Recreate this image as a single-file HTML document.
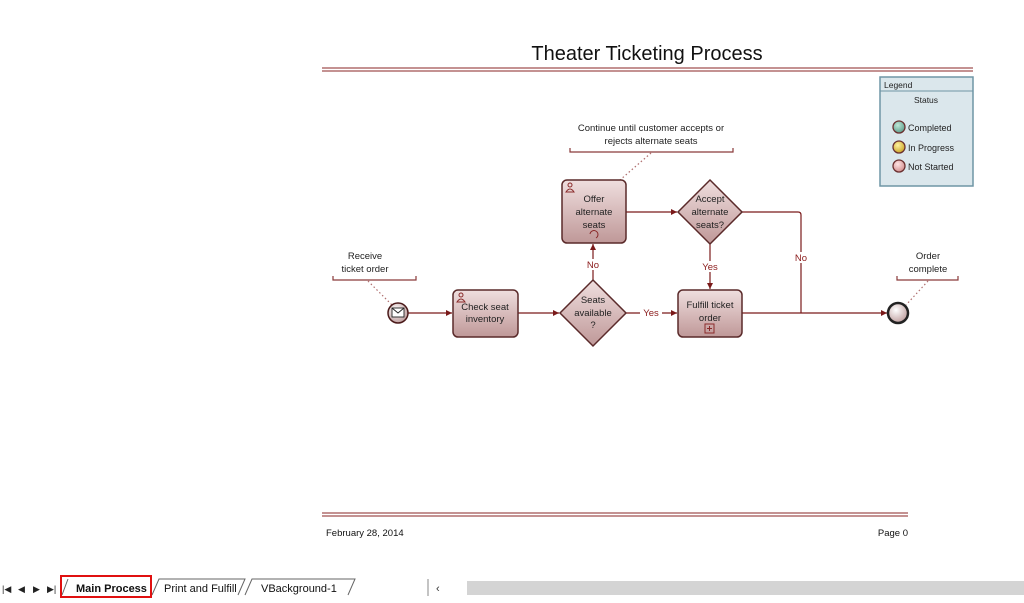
<!DOCTYPE html>
<html><head><style>
body{margin:0;width:1024px;height:598px;background:#fff;overflow:hidden;font-family:"Liberation Sans",sans-serif;}
svg text{font-family:"Liberation Sans",sans-serif;}
</style></head><body>
<svg width="1024" height="598" xmlns="http://www.w3.org/2000/svg">
<defs>
<linearGradient id="tg" x1="0" y1="0" x2="0" y2="1"><stop offset="0" stop-color="#efdede"/><stop offset="1" stop-color="#bf9898"/></linearGradient>
<radialGradient id="cg" cx="0.4" cy="0.35" r="0.7"><stop offset="0" stop-color="#fff"/><stop offset="1" stop-color="#b99"/></radialGradient>
<radialGradient id="gg" cx="0.4" cy="0.35" r="0.7"><stop offset="0" stop-color="#bfe8d8"/><stop offset="1" stop-color="#5a9a88"/></radialGradient>
<radialGradient id="yg" cx="0.4" cy="0.35" r="0.7"><stop offset="0" stop-color="#fff2a0"/><stop offset="1" stop-color="#c8a020"/></radialGradient>
<radialGradient id="pg" cx="0.4" cy="0.35" r="0.7"><stop offset="0" stop-color="#ffe4e4"/><stop offset="1" stop-color="#d08a8a"/></radialGradient>
<marker id="ar" markerWidth="6" markerHeight="6" refX="5" refY="3" orient="auto"><path d="M0,0.5 L5,3 L0,5.5z" fill="#7a1a1a"/></marker>
</defs>
<text x="647" y="60" font-size="20" text-anchor="middle" fill="#111">Theater Ticketing Process</text>
<g stroke="#a05050" stroke-width="1.2"><line x1="322" y1="68" x2="973" y2="68"/><line x1="322" y1="71" x2="973" y2="71"/>
<line x1="322" y1="513" x2="908" y2="513"/><line x1="322" y1="516" x2="908" y2="516"/></g>
<text x="326" y="536" font-size="9.5" fill="#111">February 28, 2014</text>
<text x="908" y="536" font-size="9.5" fill="#111" text-anchor="end">Page 0</text>
<rect x="880" y="77" width="93" height="109" fill="#dbe7ec" stroke="#6f95a5" stroke-width="1.5"/>
<line x1="880" y1="91" x2="973" y2="91" stroke="#6f95a5"/>
<text x="884" y="88" font-size="8.5" fill="#222">Legend</text>
<text x="926" y="103" font-size="8.5" fill="#222" text-anchor="middle">Status</text>
<circle cx="899" cy="127" r="6" fill="url(#gg)" stroke="#6a3030" stroke-width="1.3"/><text x="908" y="131" font-size="9" fill="#222">Completed</text>
<circle cx="899" cy="147" r="6" fill="url(#yg)" stroke="#6a3030" stroke-width="1.3"/><text x="908" y="151" font-size="9" fill="#222">In Progress</text>
<circle cx="899" cy="166" r="6" fill="url(#pg)" stroke="#6a3030" stroke-width="1.3"/><text x="908" y="170" font-size="9" fill="#222">Not Started</text>
<g font-size="9.5" fill="#222" text-anchor="middle">
<text x="651" y="131">Continue until customer accepts or</text><text x="651" y="144">rejects alternate seats</text>
<text x="365" y="259">Receive</text><text x="365" y="272">ticket order</text>
<text x="928" y="259">Order</text><text x="928" y="272">complete</text>
</g>
<g fill="none" stroke="#8a3a3a" stroke-width="1.2">
<path d="M570,148 V152 H733 V148"/><path d="M333,276 V280 H416 V276"/><path d="M897,276 V280 H958 V276"/>
</g>
<g stroke="#b07070" stroke-dasharray="1.5,2.5" stroke-width="1.2">
<line x1="651" y1="153" x2="620" y2="180"/><line x1="368" y1="281" x2="392" y2="305"/><line x1="928" y1="281" x2="906" y2="305"/>
</g>
<g stroke="#7a1a1a" stroke-width="1.2" fill="none">
<line x1="408" y1="313" x2="452" y2="313" marker-end="url(#ar)"/>
<line x1="518" y1="313" x2="559" y2="313" marker-end="url(#ar)"/>
<line x1="626" y1="313" x2="677" y2="313" marker-end="url(#ar)"/>
<line x1="742" y1="313" x2="887" y2="313" marker-end="url(#ar)"/>
<line x1="593" y1="280" x2="593" y2="244" marker-end="url(#ar)"/>
<line x1="626" y1="212" x2="677" y2="212" marker-end="url(#ar)"/>
<line x1="710" y1="244" x2="710" y2="289" marker-end="url(#ar)"/>
<path d="M742,212 H798 Q801,212 801,215 V313"/>
</g>
<g font-size="9.5" fill="#8a1a1a" text-anchor="middle">
<rect x="583" y="259" width="20" height="11" fill="#fff"/><text x="593" y="268">No</text>
<rect x="640" y="307" width="22" height="11" fill="#fff"/><text x="651" y="316">Yes</text>
<rect x="699" y="261" width="22" height="11" fill="#fff"/><text x="710" y="270">Yes</text>
<rect x="792" y="252" width="18" height="11" fill="#fff"/><text x="801" y="261">No</text>
</g>
<circle cx="398" cy="313" r="10" fill="url(#cg)" stroke="#4a1a1a" stroke-width="1.5"/>
<rect x="392" y="308" width="12" height="9" fill="#fff" stroke="#222" stroke-width="0.9"/><path d="M392,308 L398,313 L404,308" fill="none" stroke="#222" stroke-width="0.9"/>
<circle cx="898" cy="313" r="10" fill="url(#cg)" stroke="#222" stroke-width="2.5"/>
<g stroke="#5a2a2a" stroke-width="1.5" fill="url(#tg)">
<rect x="453" y="290" width="65" height="47" rx="5"/>
<rect x="678" y="290" width="64" height="47" rx="5"/>
<rect x="562" y="180" width="64" height="63" rx="5"/>
<path d="M593,280 L626,313 L593,346 L560,313z"/>
<path d="M710,180 L742,212 L710,244 L678,212z"/>
</g>
<g font-size="9.5" fill="#222" text-anchor="middle">
<text x="485" y="310">Check seat</text><text x="485" y="322">inventory</text>
<text x="710" y="308">Fulfill ticket</text><text x="710" y="321">order</text>
<text x="594" y="202">Offer</text><text x="594" y="215">alternate</text><text x="594" y="228">seats</text>
<text x="593" y="303">Seats</text><text x="593" y="316">available</text><text x="593" y="328">?</text>
<text x="710" y="202">Accept</text><text x="710" y="215">alternate</text><text x="710" y="228">seats?</text>
</g>
<g fill="none" stroke="#8a2a2a" stroke-width="1">
<circle cx="461" cy="295" r="2"/><path d="M457,302 Q461,296 465,302z"/>
<circle cx="570" cy="185" r="2"/><path d="M566,192 Q570,186 574,192z"/>
<path d="M590,234 A4,4 0 1 1 596,238"/>
<rect x="705" y="324" width="9" height="9"/><path d="M709.5,326 V331 M707,328.5 H712"/>
</g>
<rect x="0" y="577" width="1024" height="21" fill="#fff"/>
<rect x="467" y="581" width="557" height="14" fill="#d4d4d4"/>
<line x1="428" y1="579" x2="428" y2="596" stroke="#888"/>
<text x="436" y="592" font-size="11" fill="#333">‹</text>
<g fill="#222" font-size="9"><text x="2" y="592">|◀</text><text x="18" y="592">◀</text><text x="33" y="592">▶</text><text x="47" y="592">▶|</text></g>
<path d="M62,595 L68,579 M152,595 L159,579 H245 L238,595 M245,595 L252,579 H355 L348,595" fill="none" stroke="#666"/>
<rect x="61" y="576" width="90" height="21" fill="none" stroke="#e01010" stroke-width="2"/>
<text x="76" y="592" font-size="11" font-weight="bold" fill="#111">Main Process</text>
<text x="164" y="592" font-size="11" fill="#111">Print and Fulfill</text>
<text x="261" y="592" font-size="11" fill="#111">VBackground-1</text>
</svg>
</body></html>
